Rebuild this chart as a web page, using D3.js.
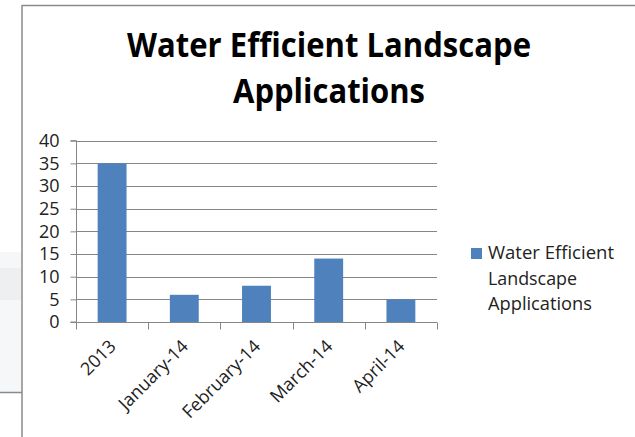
<!DOCTYPE html>
<html>
<head>
<meta charset="utf-8">
<script src="https://cdn.jsdelivr.net/npm/d3@7"></script>
<style>
  html, body { margin: 0; padding: 0; background: #fff; }
  svg { display: block; }
  text { font-family: "Open Sans", "Noto Sans", sans-serif; }
</style>
</head>
<body>
<svg id="chart" width="635" height="437"></svg>
<script>
// ---- data ----
const categories = ["2013", "January-14", "February-14", "March-14", "April-14"];
const values = [35, 6, 8, 14, 5];
const yTicks = [0, 5, 10, 15, 20, 25, 30, 35, 40];
const titleLines = ["Water Efficient Landscape", "Applications"];
const legendLines = ["Water Efficient", "Landscape", "Applications"];

// ---- layout ----
const W = 635, H = 437;
const plot = { left: 76, right: 437, top: 140.7, bottom: 322 };
const barColor = "#4F81BD";
const gridColor = "#868686";
const textColor = "#222";

const svg = d3.select("#chart");

// frame (screenshot borders)
svg.append("rect").attr("x", 0).attr("y", 252).attr("width", 21).attr("height", 140)
  .attr("fill", "#f6f7f9");
svg.append("rect").attr("x", 0).attr("y", 268).attr("width", 21).attr("height", 32)
  .attr("fill", "#eeeff1");
svg.append("line").attr("x1", 0).attr("x2", 22).attr("y1", 392.5).attr("y2", 392.5)
  .attr("stroke", "#8a8a8a").attr("stroke-width", 1.5);
svg.append("line").attr("x1", 22).attr("x2", W).attr("y1", 5.5).attr("y2", 5.5)
  .attr("stroke", "#8a8a8a").attr("stroke-width", 1.5);
svg.append("line").attr("x1", 22).attr("x2", 22).attr("y1", 5).attr("y2", H)
  .attr("stroke", "#8a8a8a").attr("stroke-width", 1.5);

// scales
const x = d3.scaleBand().domain(categories).range([plot.left, plot.right])
  .paddingInner(0.6).paddingOuter(0.3);
const y = d3.scaleLinear().domain([0, 40]).range([plot.bottom, plot.top]);

// gridlines
svg.append("g").selectAll("line").data(yTicks.filter(d => d > 0)).join("line")
  .attr("x1", plot.left).attr("x2", plot.right)
  .attr("y1", d => Math.round(y(d)) + 0.5).attr("y2", d => Math.round(y(d)) + 0.5)
  .attr("stroke", gridColor).attr("stroke-width", 1);

// bars
svg.append("g").selectAll("rect").data(values).join("rect")
  .attr("x", (d, i) => x(categories[i]))
  .attr("width", x.bandwidth())
  .attr("y", d => y(d))
  .attr("height", d => y(0) - y(d))
  .attr("fill", barColor);

// y axis
const yAxis = d3.axisLeft(y).tickValues(yTicks).tickSize(6).tickPadding(11);
const gy = svg.append("g").attr("transform", `translate(${plot.left + 0.5},0)`).call(yAxis);
gy.select(".domain").attr("stroke", gridColor).attr("d", `M-6,${y(0)}H0V${y(40)}H-6`);
gy.selectAll(".tick line").attr("stroke", gridColor);
gy.selectAll(".tick text").attr("fill", textColor).style("font-size", "18px");

// x axis
const gx = svg.append("g").attr("transform", `translate(0,${Math.round(plot.bottom) + 0.5})`);
gx.append("line").attr("x1", plot.left).attr("x2", plot.right).attr("y1", 0).attr("y2", 0)
  .attr("stroke", gridColor);
const boundaries = d3.range(categories.length + 1).map(i => plot.left + i * x.step());
gx.selectAll("line.tk").data(boundaries).join("line").attr("class", "tk")
  .attr("x1", d => Math.round(d) + 0.5).attr("x2", d => Math.round(d) + 0.5)
  .attr("y1", 0).attr("y2", 7).attr("stroke", gridColor);
gx.selectAll("text").data(categories).join("text")
  .attr("transform", d => `translate(${x(d) + x.bandwidth() / 2 + 5},25) rotate(-45)`)
  .attr("text-anchor", "end")
  .attr("fill", textColor)
  .style("font-size", "18px")
  .text(d => d);

// title
const titleG = svg.append("g");
const titleBase = [56.5, 102.5];
const titleWidths = [404, 192];
titleG.selectAll("text").data(titleLines).join("text")
  .attr("x", 329).attr("y", (d, i) => titleBase[i])
  .attr("text-anchor", "middle")
  .attr("textLength", (d, i) => titleWidths[i])
  .attr("lengthAdjust", "spacingAndGlyphs")
  .attr("fill", "#000")
  .style("font-size", "33.5px").style("font-weight", "700")
  .text(d => d);

// legend
const leg = svg.append("g");
leg.append("rect").attr("x", 471).attr("y", 248).attr("width", 11).attr("height", 11)
  .attr("fill", barColor);
const legBase = [259, 284.5, 310];
const legWidths = [126, 89, 104];
leg.selectAll("text").data(legendLines).join("text")
  .attr("x", 488).attr("y", (d, i) => legBase[i])
  .attr("textLength", (d, i) => legWidths[i])
  .attr("lengthAdjust", "spacingAndGlyphs")
  .attr("fill", textColor)
  .style("font-size", "18px")
  .text(d => d);
</script>
</body>
</html>
